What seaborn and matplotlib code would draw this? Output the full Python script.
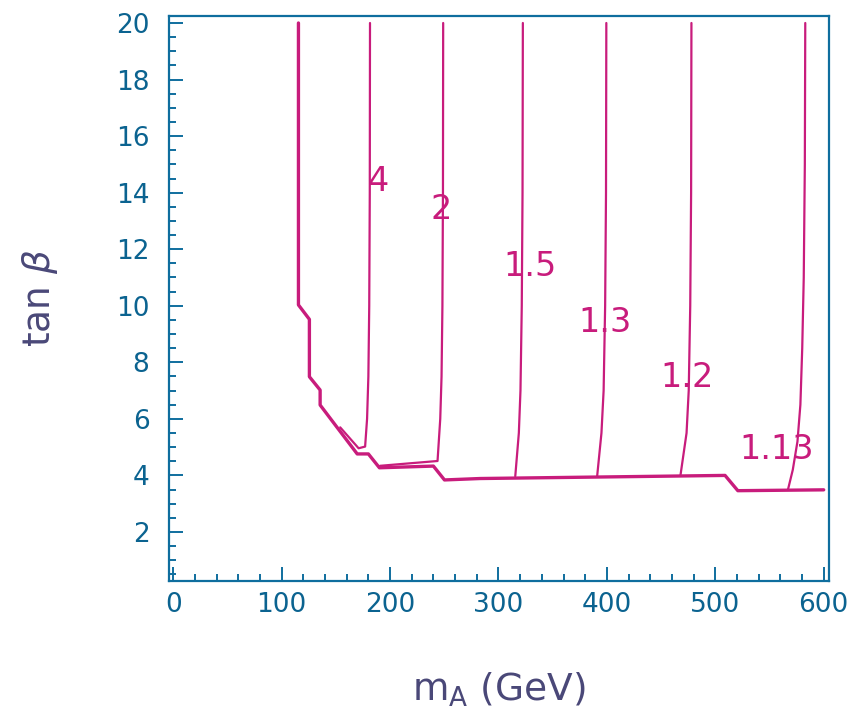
import matplotlib
matplotlib.use("Agg")
import matplotlib.pyplot as plt
import seaborn as sns
import pandas as pd
from matplotlib.ticker import MultipleLocator

# ---- data ----
boundary_x = [115.5, 115.5, 125.6, 125.6, 135.5, 135.5, 169.7, 180.0, 190.2, 240.0, 250.2, 283.0, 509.0, 520.8, 600.0]
boundary_y = [20.0, 10.03, 9.52, 7.49, 7.02, 6.49, 4.76, 4.76, 4.27, 4.33, 3.84, 3.89, 4.00, 3.46, 3.49]

c4_x = [181.5, 181.3, 180.8, 180.0, 178.8, 177.0, 171.0, 154.0]
c4_y = [20.0, 14.0, 10.0, 7.5, 6.0, 5.02, 4.96, 5.70]
c2_x = [249.0, 248.8, 248.3, 247.5, 246.3, 243.8, 190.8]
c2_y = [20.0, 14.0, 10.0, 7.5, 6.0, 4.51, 4.34]
c15_x = [322.5, 322.2, 321.5, 320.3, 318.8, 315.5]
c15_y = [20.0, 14.0, 10.0, 7.0, 5.5, 3.97]
c13_x = [399.5, 399.2, 398.4, 397.0, 395.0, 391.0]
c13_y = [20.0, 14.0, 10.0, 7.0, 5.5, 3.96]
c12_x = [478.0, 477.7, 476.9, 475.5, 473.5, 467.8]
c12_y = [20.0, 14.0, 10.0, 7.0, 5.5, 3.98]
c113_x = [583.0, 582.6, 581.6, 580.2, 578.5, 575.8, 571.5, 567.0]
c113_y = [20.0, 15.0, 11.0, 8.5, 6.5, 5.2, 4.2, 3.49]

contour_labels = ["4", "2", "1.5", "1.3", "1.2", "1.13"]
label_x = [189, 247, 329, 398, 474, 557]
label_y = [14.4, 13.4, 11.4, 9.4, 7.45, 4.9]

x_ticks = [0, 100, 200, 300, 400, 500, 600]
y_ticks = [2, 4, 6, 8, 10, 12, 14, 16, 18, 20]

# ---- style ----
sns.set_style("white")
plt.rcParams['font.family'] = ['DejaVu Sans']
plt.rcParams['mathtext.fontset'] = 'dejavusans'

axis_col = "#0F6E9E"
tick_col = "#0B6390"
label_col = "#4A4878"
curve_col = "#C81C7C"

fig = plt.figure(figsize=(8.53, 7.11), dpi=100)
ax = fig.add_axes([0.198, 0.183, 0.774, 0.795])

def draw(xs, ys, lw):
    df = pd.DataFrame({"x": xs, "y": ys})
    sns.lineplot(data=df, x="x", y="y", sort=False, estimator=None,
                 color=curve_col, linewidth=lw, ax=ax)

draw(boundary_x, boundary_y, 2.4)
for xs, ys in [(c4_x, c4_y), (c2_x, c2_y), (c15_x, c15_y),
               (c13_x, c13_y), (c12_x, c12_y), (c113_x, c113_y)]:
    draw(xs, ys, 1.6)

for t, lx, ly in zip(contour_labels, label_x, label_y):
    ax.text(lx, ly, t, color=curve_col, fontsize=24, ha="center", va="center")

ax.set_xlim(-4, 605)
ax.set_ylim(0.27, 20.26)
ax.set_xticks(x_ticks)
ax.set_yticks(y_ticks)
ax.xaxis.set_minor_locator(MultipleLocator(20))
ax.yaxis.set_minor_locator(MultipleLocator(0.5))

for s in ax.spines.values():
    s.set_color(axis_col)
    s.set_linewidth(1.6)

ax.tick_params(which="both", direction="in", color=axis_col, width=1.4,
               bottom=True, left=True, top=False, right=False)
ax.tick_params(which="major", length=10)
ax.tick_params(which="minor", length=5)
ax.tick_params(axis="y", which="major", pad=14, labelsize=19, labelcolor=tick_col)
ax.tick_params(axis="x", which="major", pad=8, labelsize=19, labelcolor=tick_col)

ax.set_xlabel(r"m$_{\mathrm{A}}$ (GeV)", fontsize=27, color=label_col, labelpad=38)
ax.set_ylabel(r"tan $\beta$", fontsize=27, color=label_col, labelpad=40)

fig.savefig("out.png", dpi=100)
